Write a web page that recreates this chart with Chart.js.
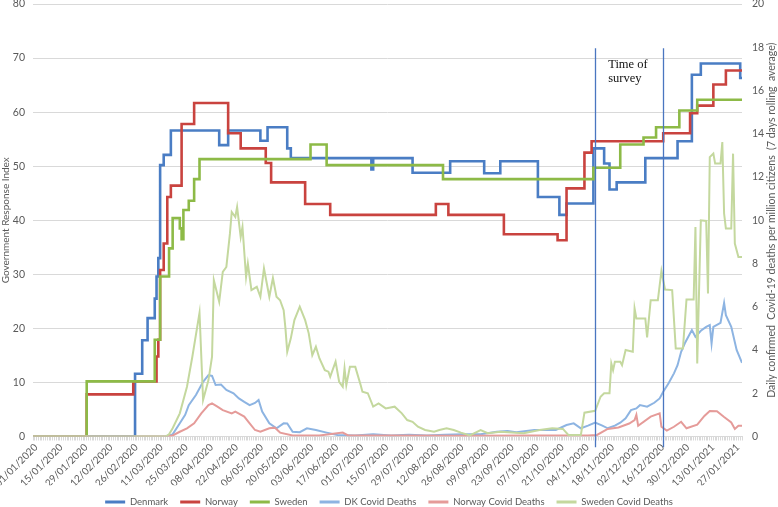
<!DOCTYPE html>
<html>
<head>
<meta charset="utf-8">
<script src="https://cdn.jsdelivr.net/npm/chart.js@4.4.1/dist/chart.umd.min.js"></script>
<style>
html,body{margin:0;padding:0;background:#fff;}
#wrap{width:778px;height:507px;}
</style>
</head>
<body>
<div id="wrap"><canvas id="c" width="778" height="507"></canvas></div>
<script>
// Days are counted from 01/01/2020 (day 0) to 31/01/2021 (day 396)
const lastDay = 396;
const tickEvery = 14;
const tickLabels = ['01/01/2020','15/01/2020','29/01/2020','12/02/2020','26/02/2020','11/03/2020','25/03/2020',
  '08/04/2020','22/04/2020','06/05/2020','20/05/2020','03/06/2020','17/06/2020','01/07/2020','15/07/2020',
  '29/07/2020','12/08/2020','26/08/2020','09/09/2020','23/09/2020','07/10/2020','21/10/2020','04/11/2020',
  '18/11/2020','02/12/2020','16/12/2020','30/12/2020','13/01/2021','27/01/2021'];

const seriesNames = ['Denmark','Norway','Sweden','DK Covid Deaths','Norway Covid Deaths','Sweden Covid Deaths'];
const leftTitle = 'Government Response Index';
const rightTitle = 'Daily confirmed  Covid-19 deaths per million citizens  (7 days rolling  average)';

// Government Response Index: [day, new value] at each change (stepwise)
const denmarkIndex = [[0,0],[57,11.6],[61,17.8],[64,21.9],[68,25.5],[69,29.6],[70,33.0],[71,50.2],[73,52.1],[77,56.6],
  [104,53.9],[109,56.6],[127,54.7],[131,57.2],[142,53.3],[144,51.5],[189,49.4],[190,51.5],[212,48.8],[233,50.9],
  [252,48.7],[261,50.9],[282,44.3],[294,41.0],[298,43.1],[313,53.3],[319,50.5],[322,45.7],[326,47.0],[342,51.5],
  [360,54.6],[368,66.9],[373,69.0],[395,66.3],[396,66.3]];
const norwayIndex = [[0,0],[30,7.8],[56,10.2],[69,14.8],[70,17.9],[71,30.8],[73,35.7],[75,44.3],[77,46.4],[83,57.8],
  [90,61.7],[109,56.1],[116,53.3],[130,50.6],[133,47.0],[152,43.0],[166,41.0],[225,43.0],[232,41.0],[263,37.4],
  [293,36.3],[298,45.9],[308,52.5],[312,54.6],[352,56.1],[367,59.8],[371,61.2],[380,65.1],[387,67.7],[396,67.7]];
const swedenIndex = [[0,0],[30,10.2],[68,17.9],[71,29.6],[76,34.8],[78,40.4],[82,38.5],[83,36.5],[84,41.9],[87,43.6],
  [90,47.6],[93,51.3],[155,54.0],[164,50.2],[229,47.6],[313,49.7],[328,54.0],[341,55.3],[348,57.2],[361,60.3],
  [371,62.3],[396,62.3]];

// Daily confirmed deaths per million (7-day rolling average): [day, value]
const dkDeaths = [[0,0],[74,0],[78,0.1],[82,0.61],[85,1.0],[87,1.45],[91,1.92],[95,2.53],[98,2.84],[100,2.8],[102,2.38],
  [105,2.4],[108,2.15],[112,2.0],[115,1.76],[118,1.6],[121,1.45],[124,1.55],[126,1.69],[128,1.15],[132,0.61],[136,0.38],
  [140,0.61],[142,0.6],[145,0.22],[149,0.2],[153,0.38],[158,0.3],[164,0.18],[170,0.07],[180,0.05],[190,0.1],[200,0.05],
  [210,0.08],[220,0.05],[230,0.08],[240,0.1],[250,0.1],[259,0.22],[265,0.25],[270,0.2],[280,0.3],[285,0.3],[292,0.3],
  [298,0.53],[302,0.61],[306,0.38],[310,0.5],[314,0.64],[318,0.5],[321,0.38],[325,0.5],[328,0.64],[331,0.84],[334,1.22],
  [337,1.3],[339,1.45],[343,1.38],[347,1.56],[350,1.76],[352,2.07],[355,2.46],[358,2.92],[360,3.3],[362,3.92],[364,4.3],
  [366,4.61],[368,4.92],[370,4.61],[373,4.89],[376,5.07],[378,5.15],[379,4.3],[380,5.07],[384,5.26],[386,6.18],[387,5.61],
  [390,5.07],[393,4.0],[396,3.41]];
const noDeaths = [[0,0],[74,0],[78,0.05],[82,0.22],[86,0.38],[90,0.61],[94,1.07],[98,1.45],[100,1.53],[103,1.38],[106,1.22],
  [111,1.07],[113,1.15],[118,0.92],[121,0.61],[124,0.3],[127,0.22],[132,0.38],[135,0.41],[138,0.18],[145,0.05],[160,0.05],
  [173,0.18],[176,0.05],[200,0.05],[240,0.03],[280,0.05],[310,0.05],[315,0.07],[321,0.35],[327,0.42],[333,0.6],[336,0.76],
  [337,1.0],[338,0.5],[345,0.92],[350,1.07],[351,0.45],[354,0.27],[358,0.45],[362,0.68],[365,0.38],[371,0.55],[375,0.95],
  [378,1.18],[382,1.17],[386,0.9],[390,0.65],[392,0.35],[394,0.5],[396,0.5]];
const seDeaths = [[0,0],[74,0],[76,0.1],[78,0.38],[82,1.07],[86,2.3],[89,3.69],[93,5.72],[95,1.69],[98,2.61],[100,3.69],
  [101,7.23],[104,6.23],[106,7.61],[108,7.84],[110,9.39],[111,10.38],[113,10.15],[114,10.61],[116,9.23],[117,9.69],
  [119,7.38],[120,8.0],[122,6.77],[125,6.92],[127,6.46],[129,7.77],[132,6.46],[134,7.33],[136,6.46],[138,6.3],[140,5.84],
  [141,5.0],[142,3.92],[144,4.54],[146,5.38],[149,6.0],[152,5.38],[154,4.77],[156,3.76],[158,4.15],[160,3.61],[163,3.07],
  [165,3.0],[166,2.76],[169,3.46],[171,2.53],[173,2.3],[174,3.15],[175,2.38],[177,3.22],[180,3.22],[183,2.38],[184,2.07],
  [187,2.0],[190,1.38],[193,1.53],[197,1.3],[202,1.38],[206,1.07],[209,0.76],[212,0.68],[215,0.45],[219,0.3],[224,0.22],
  [227,0.3],[231,0.38],[235,0.3],[239,0.18],[244,0.05],[250,0.3],[254,0.15],[261,0.22],[274,0.15],[283,0.3],[290,0.38],
  [296,0.35],[299,0.07],[306,0.07],[308,1.1],[314,1.19],[317,1.84],[319,2.0],[322,2.0],[323,3.38],[324,3.07],[325,3.46],
  [328,3.46],[329,3.3],[331,4.0],[335,3.92],[336,5.92],[337,5.46],[342,5.46],[343,4.58],[345,6.3],[349,6.3],[351,7.66],
  [353,6.8],[357,6.77],[359,4.07],[363,4.07],[365,6.34],[369,6.34],[370,9.69],[371,3.38],[373,10.0],[376,9.97],[377,6.61],
  [378,12.92],[380,13.08],[381,12.62],[384,12.62],[385,13.62],[386,10.31],[387,9.62],[390,9.62],[391,13.08],[392,8.92],
  [394,8.3],[396,8.3]];

// Survey period: 10/11/2020 and 18/12/2020
const surveyDays = [314, 352];
const surveyText = ['Time of', 'survey'];

const colors = ['#4A7DC4', '#C9433F', '#8DBA47', '#8DB4E2', '#E59B99', '#C4D89E'];
const textColor = '#595959';
const gridColor = '#D9D9D9';

Chart.defaults.font.family = 'Lato, "Liberation Sans", sans-serif';
Chart.defaults.color = textColor;

const overlayPlugin = {
  id: 'overlay',
  afterDatasetsDraw(chart) {
    const {ctx, scales} = chart;
    const x = scales.x, y1 = scales.y1;
    const top = y1.getPixelForValue(17.95);
    const bottom = y1.getPixelForValue(-0.5);
    ctx.save();
    ctx.strokeStyle = '#4A76C0';
    ctx.lineWidth = 1.3;
    surveyDays.forEach(d => {
      const px = Math.round(x.getPixelForValue(d)) + 0.5;
      ctx.beginPath();
      ctx.moveTo(px, top);
      ctx.lineTo(px, bottom);
      ctx.stroke();
    });
    ctx.fillStyle = '#111';
    ctx.font = '12.5px "Liberation Serif", "Times New Roman", serif';
    ctx.textBaseline = 'alphabetic';
    ctx.textAlign = 'left';
    const tx = x.getPixelForValue(surveyDays[0]) + 13;
    surveyText.forEach((t, i) => ctx.fillText(t, tx, top + 20 + i * 13.5));
    ctx.restore();
  },
  afterDraw(chart) {
    // right-axis title, reading bottom-to-top like the left one
    const {ctx} = chart;
    const s = chart.scales.y1;
    ctx.save();
    ctx.fillStyle = textColor;
    ctx.font = '10.5px Lato, "Liberation Sans", sans-serif';
    ctx.textAlign = 'center';
    ctx.textBaseline = 'middle';
    ctx.translate(s.right - 6, (s.top + s.bottom) / 2);
    ctx.rotate(-Math.PI / 2);
    ctx.fillText(rightTitle, 0, 0);
    ctx.restore();
  }
};

const mk = (label, data, color, axis, width, stepped, order) => ({
  label, data, borderColor: color, backgroundColor: color, yAxisID: axis,
  borderWidth: width, pointRadius: 0, pointHoverRadius: 0, tension: 0, stepped, fill: false, order
});

const noPad = s => { s.paddingTop = 0; s.paddingBottom = 0; s.paddingLeft = 0; s.paddingRight = 0; };

new Chart(document.getElementById('c'), {
  type: 'line',
  data: {
    datasets: [
      mk(seriesNames[0], denmarkIndex, colors[0], 'y', 2.6, true, 6),
      mk(seriesNames[1], norwayIndex, colors[1], 'y', 2.6, true, 5),
      mk(seriesNames[2], swedenIndex, colors[2], 'y', 2.6, true, 4),
      mk(seriesNames[3], dkDeaths, colors[3], 'y1', 2, false, 3),
      mk(seriesNames[4], noDeaths, colors[4], 'y1', 2, false, 2),
      mk(seriesNames[5], seDeaths, colors[5], 'y1', 2, false, 1)
    ]
  },
  options: {
    responsive: false,
    animation: false,
    devicePixelRatio: 1,
    layout: { autoPadding: false, padding: { top: 4, left: 0, right: 0, bottom: -9.75 } },
    plugins: {
      tooltip: { enabled: false },
      legend: {
        position: 'bottom',
        labels: {
          boxWidth: 20, boxHeight: 3, padding: 12,
          font: { size: 9.5 }, color: textColor,
          sort: (a, b) => a.datasetIndex - b.datasetIndex,
          generateLabels(chart) {
            const items = Chart.defaults.plugins.legend.labels.generateLabels(chart);
            items.forEach(it => { it.fillStyle = it.strokeStyle; it.lineWidth = 0; });
            return items;
          }
        }
      }
    },
    scales: {
      x: {
        type: 'linear', min: 0, max: lastDay,
        afterFit: s => { noPad(s); s.height = 48.75; },
        border: { display: true, color: gridColor, width: 1 },
        grid: { display: true, drawOnChartArea: false, drawTicks: true, tickLength: 4, color: gridColor },
        ticks: {
          stepSize: 1, autoSkip: false, maxRotation: 45, minRotation: 45, padding: 1, labelOffset: 3,
          font: { size: 10 }, color: textColor,
          callback: v => (v % tickEvery === 0 ? tickLabels[v / tickEvery] : '')
        }
      },
      y: {
        position: 'left', min: 0, max: 80,
        afterFit: s => { noPad(s); s.width = 33; },
        border: { display: false },
        grid: { color: gridColor, lineWidth: 1, drawTicks: false },
        ticks: { stepSize: 10, padding: 8, font: { size: 10.5 }, color: textColor },
        title: { display: true, text: leftTitle, font: { size: 10 }, color: textColor, padding: { top: 0, bottom: 0 } }
      },
      y1: {
        position: 'right', min: 0, max: 20,
        afterFit: s => { noPad(s); s.width = 36; },
        border: { display: false },
        grid: { display: false, drawTicks: false },
        ticks: { stepSize: 2, padding: 10, font: { size: 10.5 }, color: textColor }
      }
    }
  },
  plugins: [overlayPlugin]
});
</script>
</body>
</html>
